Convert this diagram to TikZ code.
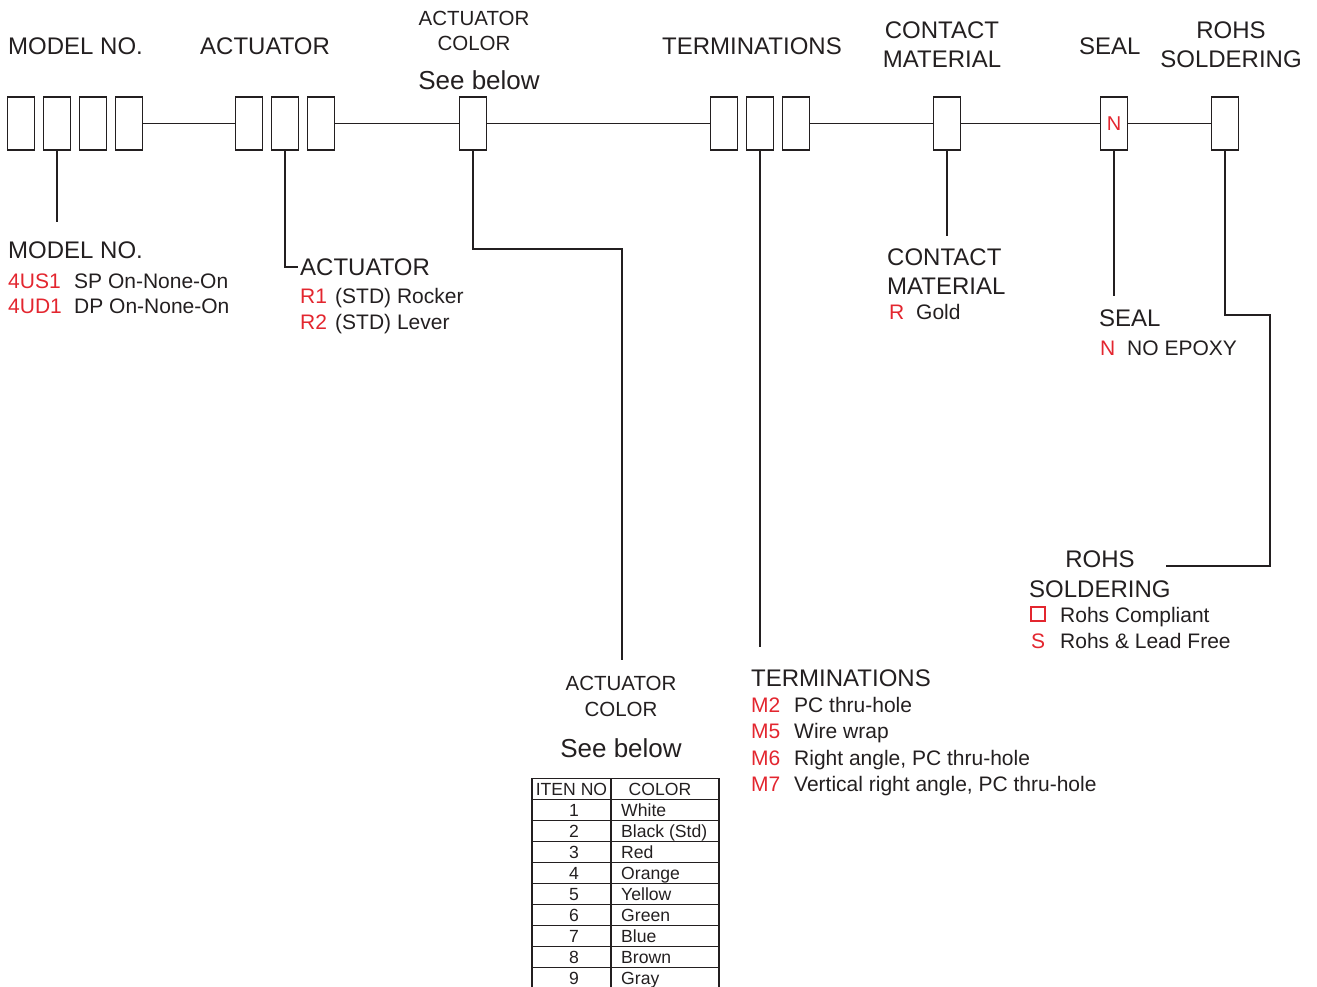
\documentclass[tikz,border=0pt]{standalone}
\usepackage{fontspec}
\setmainfont{Liberation Sans}
\usetikzlibrary{positioning}
\definecolor{inkgray}{HTML}{231F20}
\definecolor{codered}{HTML}{E3262F}
\tikzset{
  digit/.style={draw=inkgray, line width=1.6pt, minimum width=27pt, minimum height=53pt, inner sep=0pt, outer sep=0pt},
  wire/.style={draw=inkgray, line width=1.6pt},
  headtxt/.style={text=inkgray, inner sep=0pt, font=\fontsize{24}{29}\selectfont},
  smalltxt/.style={text=inkgray, inner sep=0pt, align=center, font=\fontsize{20.5}{25.5}\selectfont},
  seetxt/.style={text=inkgray, inner sep=0pt, font=\fontsize{26}{30}\selectfont},
  desctxt/.style={text=inkgray, inner sep=0pt, anchor=base west, font=\fontsize{21}{25}\selectfont},
  codetxt/.style={desctxt, text=codered},
  celltxt/.style={text=inkgray, inner sep=0pt, anchor=base, font=\fontsize{17.6}{20}\selectfont},
}

\begin{document}
\begin{tikzpicture}[x=1pt, y=-1pt]
\useasboundingbox (0,0) rectangle (1317,986);
% headings above the code boxes
\node[headtxt, anchor=base west] (hmodel) at (8,54) {MODEL NO.};
\node[headtxt, anchor=base west] (hact) at (200,54) {ACTUATOR};
\node[smalltxt] (hcol) at (474,31) {ACTUATOR\\COLOR};
\node[seetxt] (hsee) at (479,80) {See below};
\node[headtxt, anchor=base west] (hterm) at (662,54) {TERMINATIONS};
\node[headtxt, align=center] (hcont) at (942,44.5) {CONTACT\\MATERIAL};
\node[headtxt, anchor=base west] (hseal) at (1079,54) {SEAL};
\node[headtxt, align=center] (hrohs) at (1231,44.5) {ROHS\\SOLDERING};

% code boxes
\node[digit] (m1) at (21,123.5) {};
\node[digit, right=9pt of m1] (m2) {};
\node[digit, right=9pt of m2] (m3) {};
\node[digit, right=9pt of m3] (m4) {};
\node[digit] (a1) at (249,123.5) {};
\node[digit, right=9pt of a1] (a2) {};
\node[digit, right=9pt of a2] (a3) {};
\node[digit] (cb) at (473,123.5) {};
\node[digit] (t1) at (724,123.5) {};
\node[digit, right=9pt of t1] (t2) {};
\node[digit, right=9pt of t2] (t3) {};
\node[digit] (cm) at (947,123.5) {};
\node[digit, text=codered, font=\fontsize{20}{24}\selectfont] (sl) at (1114,123.5) {N};
\node[digit] (rh) at (1225,123.5) {};

\draw[wire] (m4) -- (a1);
\draw[wire] (a3) -- (cb);
\draw[wire] (cb) -- (t1);
\draw[wire] (t3) -- (cm);
\draw[wire] (cm) -- (sl);
\draw[wire] (sl) -- (rh);

% model no.
\coordinate (dmodel) at (57,222);
\draw[wire] (m2.south) -- (dmodel);
\node[headtxt, anchor=base west] (lmodel) at (8,258) {MODEL NO.};
\node[codetxt] (k4us1) at (8,288) {4US1};
\node[desctxt] (d4us1) at (74,288) {SP On-None-On};
\node[codetxt] (k4ud1) at (8,313) {4UD1};
\node[desctxt] (d4ud1) at (74,313) {DP On-None-On};

% actuator
\node[headtxt, anchor=base west] (lact) at (300,275) {ACTUATOR};
\draw[wire] (a2.south) |- ([xshift=-2pt]lact.west);
\node[codetxt] (kr1) at (300,303) {R1};
\node[desctxt] (dr1) at (335,303) {(STD) Rocker};
\node[codetxt] (kr2) at (300,329) {R2};
\node[desctxt] (dr2) at (335,329) {(STD) Lever};

% actuator color
\coordinate (ccol1) at (622,249);
\coordinate (ccol2) at (622,660);
\draw[wire] (cb.south) |- (ccol1) -- (ccol2);
\node[smalltxt] (lcol) at (621,696.5) {ACTUATOR\\COLOR};
\node[seetxt] (lsee) at (621,748) {See below};

% colour table
\draw[inkgray, line width=1.6pt] (532,778.5) rectangle (719,988.5);
\draw[inkgray, line width=1.3pt] (611,778.5) -- (611,988.5);
\foreach \k in {1,...,9}
  \draw[inkgray, line width=1.3pt] (532,778.5+21*\k) -- (719,778.5+21*\k);
\node[celltxt] (thno) at (571.5,795.3) {ITEN NO};
\node[celltxt] (thcol) at (660,795.3) {COLOR};
\foreach \c [count=\i] in {White, Black (Std), Red, Orange, Yellow, Green, Blue, Brown, Gray} {
  \node[celltxt] (no\i) at (574,795.3+21*\i) {\i};
  \node[celltxt, anchor=base west] (col\i) at (621,795.3+21*\i) {\c};
}

% terminations
\coordinate (dterm) at (760,647);
\draw[wire] (t2.south) -- (dterm);
\node[headtxt, anchor=base west] (lterm) at (751,686) {TERMINATIONS};
\node[codetxt] (km2) at (751,712) {M2};
\node[desctxt] (dm2) at (794,712) {PC thru-hole};
\node[codetxt] (km5) at (751,738.5) {M5};
\node[desctxt] (dm5) at (794,738.5) {Wire wrap};
\node[codetxt] (km6) at (751,765) {M6};
\node[desctxt] (dm6) at (794,765) {Right angle, PC thru-hole};
\node[codetxt] (km7) at (751,791.5) {M7};
\node[desctxt] (dm7) at (794,791.5) {Vertical right angle, PC thru-hole};

% contact material
\coordinate (dcont) at (947,236);
\draw[wire] (cm.south) -- (dcont);
\node[headtxt, anchor=base west] (lcont) at (887,265) {CONTACT};
\node[headtxt, anchor=base west] (lmat) at (887,294) {MATERIAL};
\node[codetxt] (kr) at (889,319) {R};
\node[desctxt] (dgold) at (916,319) {Gold};

% seal
\coordinate (dseal) at (1114,296);
\draw[wire] (sl.south) -- (dseal);
\node[headtxt, anchor=base west] (lseal) at (1099,326) {SEAL};
\node[codetxt] (kn) at (1100,355) {N};
\node[desctxt] (dn) at (1127,355) {NO EPOXY};

% rohs soldering
\coordinate (crohs1) at (1270,315);
\coordinate (crohs2) at (1270,566);
\coordinate (crohs3) at (1166,566);
\draw[wire] (rh.south) |- (crohs1) -- (crohs2) -- (crohs3);
\node[headtxt] (lrohs) at (1100,559) {ROHS};
\node[headtxt, anchor=base west] (lsold) at (1029,597) {SOLDERING};
\node[draw=codered, line width=1.5pt, minimum size=14pt, inner sep=0pt] (ksq) at (1038,614) {};
\node[desctxt] (dsq) at (1060,622) {Rohs Compliant};
\node[codetxt] (ks) at (1031,648) {S};
\node[desctxt] (ds) at (1060,648) {Rohs \& Lead Free};
\end{tikzpicture}
\end{document}
